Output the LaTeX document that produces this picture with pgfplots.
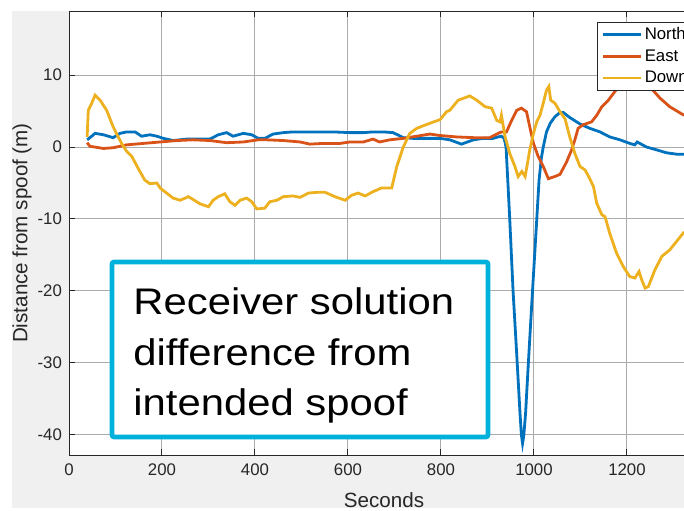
\documentclass[border=0pt]{standalone}
\usepackage{pgfplots}
\pgfplotsset{compat=1.18}
\usepackage{fontspec}
\setmainfont{Liberation Sans}
\definecolor{mblue}{HTML}{0072BD}
\definecolor{morange}{HTML}{D95319}
\definecolor{myellow}{HTML}{EDB120}
\definecolor{figgray}{HTML}{F0F0F0}
\definecolor{axcol}{HTML}{262626}
\definecolor{gridgray}{HTML}{ABABAB}
\definecolor{boxcyan}{HTML}{00B2DB}

\begin{document}
\begin{tikzpicture}[x=1pt,y=1pt]
\fill[white] (0,0) rectangle (342,255);
\clip (0,0) rectangle (342,255);
\fill[figgray] (6,1) rectangle (342,249.5);
\begin{pgfinterruptboundingbox}
\begin{axis}[
  at={(34.5pt,27.5pt)}, anchor=south west,
  scale only axis, width=315pt, height=222pt,
  xmin=0, xmax=1355, ymin=-42.8, ymax=18.9,
  xtick={0,200,...,1200}, ytick={-40,-30,...,10},
  grid=major, major grid style={gridgray, line width=0.5pt},
  axis line style={axcol, line width=0.5pt},
  tick style={axcol, line width=0.5pt}, tick align=inside, major tick length=3pt,
  ticklabel style={font=\fontsize{8.4}{10}\selectfont, text=axcol},
  xticklabel style={yshift=-1pt},
  /pgf/number format/assume math mode=true,
  /pgf/number format/1000 sep={},
  xlabel={Seconds}, ylabel={Distance from spoof (m)},
  label style={font=\fontsize{10.3}{12}\selectfont, text=axcol},
  xlabel style={at={(axis description cs:0.5,-0.101)}, anchor=center},
  ylabel style={at={(axis description cs:-0.0746,0.5)}, anchor=center},
  axis background/.style={fill=white},
  legend cell align=left,
  legend image code/.code={\draw[#1] (0pt,0pt) -- (19pt,0pt);},
  legend style={at={(axis description cs:0.838,0.976)}, anchor=north west,
    draw=axcol, line width=0.4pt, fill=white,
    font=\fontsize{8.4}{10}\selectfont, inner xsep=2.3pt, inner ysep=1pt,
    row sep=0pt, nodes={inner sep=1pt, text height=6.8pt, text depth=2pt}},
  every axis plot/.append style={line width=1.4pt},
]
\addplot[mblue] coordinates {
(39,1.0)(49,1.5)(56,1.9)(74,1.7)(95,1.3)(110,1.9)(124,2.1)(142,2.1)(156,1.5)(174,1.7)
(189,1.5)(203,1.2)(224,0.9)(253,1.1)(282,1.1)(303,1.1)(321,1.7)(339,2.0)(353,1.5)(375,1.9)
(393,1.7)(407,1.2)(421,1.2)(439,1.8)(461,2.0)(482,2.1)(504,2.1)(533,2.1)(568,2.1)(604,2.0)
(633,2.0)(654,2.1)(676,2.1)(697,2.0)(719,1.3)(740,1.2)(769,1.2)(798,1.2)(819,1.0)(844,0.4)
(870,1.0)(891,1.2)(912,1.2)(923,1.4)(930,1.5)(936,1.2)(940,0)(944,-5)(948,-10.1)(955,-19.9)
(964,-30)(970,-37)(973,-40)(975.5,-41.2)(978,-40.2)(982,-37)(988,-30)(997,-19.9)(1006,-10.1)
(1011,-4.6)(1016,-1.5)(1020,0)(1027,2.1)(1035,3.3)(1045,4.2)(1056,4.8)(1063,4.8)(1077,4.1)
(1099,3.2)(1120,2.6)(1142,2.1)(1163,1.4)(1185,1.0)(1206,0.5)(1217,0.3)(1222,0.7)(1242,0.0)
(1264,-0.4)(1285,-0.8)(1307,-1.0)(1323,-1.0)};
\addlegendentry{North}
\addplot[morange] coordinates {
(39,0.6)(45,0.1)(74,-0.2)(95,-0.1)(124,0.3)(160,0.5)(196,0.7)(232,0.9)(267,1.0)(303,0.9)
(339,0.6)(375,0.7)(407,1.0)(425,1.0)(461,0.9)(497,0.7)(518,0.4)(547,0.5)(583,0.5)(604,0.7)
(633,0.7)(654,1.1)(668,0.7)(690,1.0)(719,1.2)(748,1.5)(776,1.8)(798,1.6)(834,1.4)(870,1.3)
(905,1.3)(920,1.8)(930,2.1)(941,2.1)(952,3.7)(963,5.1)(973,5.4)(984,4.9)(991,2.8)(999,0.5)
(1009,-1.3)(1020,-2.7)(1031,-4.4)(1045,-4.1)(1056,-3.8)(1070,-2.1)(1081,-0.4)(1088,1.0)
(1095,2.6)(1106,3.1)(1124,3.5)(1135,4.4)(1146,5.6)(1160,6.5)(1174,7.7)(1185,8.6)(1200,10.0)
(1215,10.8)(1232,10.2)(1245,8.9)(1253,8.1)(1271,6.8)(1292,5.6)(1323,4.4)};
\addlegendentry{East}
\addplot[myellow] coordinates {
(39,1.4)(41.5,5.1)(49,6.1)(56,7.2)(67,6.5)(81,5.1)(95,2.8)(113,0.5)(124,-0.6)(135,-1.3)
(149,-3.0)(163,-4.6)(174,-5.1)(189,-5.0)(196,-5.7)(210,-6.4)(224,-7.1)(239,-7.4)(257,-6.9)
(267,-7.3)(282,-7.9)(300,-8.3)(310,-7.4)(321,-6.9)(335,-6.5)(346,-7.6)(357,-8.1)(368,-7.4)
(382,-7.1)(393,-7.6)(404,-8.6)(421,-8.5)(432,-7.6)(447,-7.4)(461,-6.9)(482,-6.8)(497,-7.0)
(515,-6.4)(533,-6.3)(551,-6.3)(572,-6.9)(594,-7.4)(608,-6.7)(622,-6.4)(637,-6.8)(654,-6.2)
(672,-5.7)(694,-5.7)(705,-2.7)(719,0.0)(733,1.9)(748,2.6)(776,3.3)(798,3.8)(812,4.9)(819,5.1)
(837,6.5)(862,7.1)(877,6.5)(895,5.6)(909,5.4)(920,3.7)(927,3.5)(930,4.4)(938,1.4)(948,-0.9)
(959,-2.7)(966,-4.1)(974,-3.4)(981,-4.1)(986,-2.3)(991,-0.4)(999,1.9)(1006,3.5)(1013,4.4)
(1020,6.1)(1027,7.9)(1032,8.4)(1036,6.5)(1045,6.1)(1056,4.9)(1067,3.9)(1077,1.4)(1088,-0.9)
(1099,-2.7)(1110,-3.2)(1120,-4.4)(1128,-5.5)(1135,-7.8)(1146,-9.4)(1153,-9.7)(1163,-12.0)
(1178,-14.8)(1192,-16.6)(1206,-18.0)(1217,-18.2)(1226,-17.3)(1232,-18.5)(1239,-19.6)
(1246,-19.4)(1260,-17.1)(1275,-15.2)(1292,-14.3)(1307,-13.1)(1323,-11.8)};
\addlegendentry{Down}
\end{axis}
\draw[boxcyan, line width=2.3pt, rounded corners=1pt, fill=white] (56,36.5) rectangle (244,124);
\begin{scope}[every node/.style={anchor=base west, inner sep=0pt, xscale=1.13,
    font=\fontsize{18.5}{22}\selectfont}]
\node at (66.5,97.85) {Receiver solution};
\node at (66.5,72.5) {difference from};
\node at (66.5,47.5) {intended spoof};
\end{scope}
\end{pgfinterruptboundingbox}
\end{tikzpicture}
\end{document}
